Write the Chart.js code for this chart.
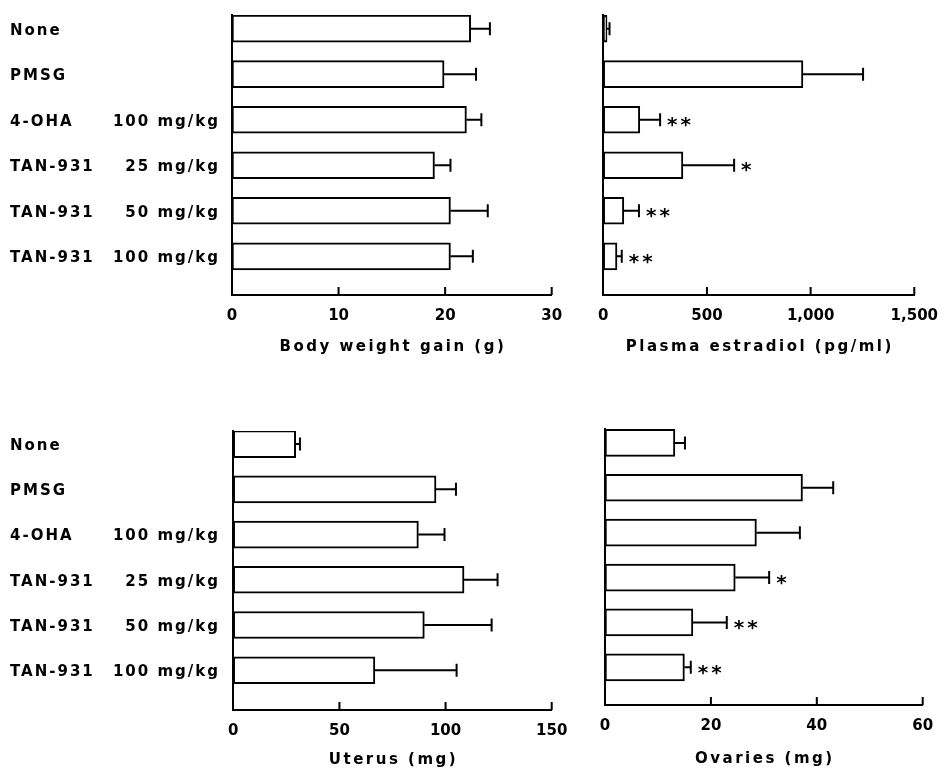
<!DOCTYPE html>
<html>
<head>
<meta charset="utf-8">
<script src="https://cdn.jsdelivr.net/npm/chart.js@4.4.1/dist/chart.umd.min.js"></script>
<style>
  html, body { margin: 0; padding: 0; background: #fff; }
  #wrap { position: relative; width: 950px; height: 770px; }
  canvas { position: absolute; left: 0; top: 0; }
</style>
</head>
<body>
<div id="wrap">
  <canvas id="weight" width="950" height="770"></canvas>
  <canvas id="estradiol" width="950" height="770"></canvas>
  <canvas id="uterus" width="950" height="770"></canvas>
  <canvas id="ovaries" width="950" height="770"></canvas>
</div>
<script>
// treatment groups (rows, top to bottom)
const groups = ['None', 'PMSG', '4-OHA', 'TAN-931', 'TAN-931', 'TAN-931'];
const doses = ['', '', '100 mg/kg', '25 mg/kg', '50 mg/kg', '100 mg/kg'];

// body weight gain (g)
const weightGain = [22.4, 19.9, 22.0, 19.0, 20.5, 20.5];
const weightGainSE = [1.8, 3.0, 1.4, 1.5, 3.5, 2.1];
const weightGainSig = ['', '', '', '', '', ''];
const weightTicks = [0, 10, 20, 30];

// plasma estradiol (pg/ml)
const estradiol = [18, 963, 176, 384, 99, 66];
const estradiolSE = [12, 290, 98, 247, 73, 23];
const estradiolSig = ['', '', '**', '*', '**', '**'];
const estradiolTicks = [0, 500, 1000, 1500];

// uterus weight (mg)
const uterus = [29.4, 95.5, 87.2, 108.7, 90.0, 66.7];
const uterusSE = [2.0, 9.4, 12.3, 15.8, 31.7, 38.5];
const uterusSig = ['', '', '', '', '', ''];
const uterusTicks = [0, 50, 100, 150];

// ovaries weight (mg)
const ovaries = [13.2, 37.3, 28.6, 24.6, 16.6, 15.0];
const ovariesSE = [1.9, 5.8, 8.2, 6.4, 6.4, 1.2];
const ovariesSig = ['', '', '', '*', '**', '**'];
const ovariesTicks = [0, 20, 40, 60];

Chart.defaults.font.family = '"DejaVu Sans", sans-serif';
Chart.defaults.font.size = 15;
Chart.defaults.color = '#000';

// error bars, asterisks, inward ticks, axis title and row labels
const extras = {
  id: 'extras',
  afterDatasetsDraw(chart) {
    const ctx = chart.ctx;
    const xs = chart.scales.x, ys = chart.scales.y;
    const area = chart.chartArea;
    const ds = chart.data.datasets[0];
    const meta = chart.getDatasetMeta(0);
    const p = chart.options.plugins.extras;
    ctx.save();
    ctx.strokeStyle = '#000';
    ctx.fillStyle = '#000';
    ctx.lineWidth = 2;
    meta.data.forEach((bar, i) => {
      const end = xs.getPixelForValue(ds.data[i].x + ds.se[i]);
      ctx.beginPath();
      ctx.moveTo(bar.x, bar.y);
      ctx.lineTo(end, bar.y);
      ctx.moveTo(end, bar.y - 6.5);
      ctx.lineTo(end, bar.y + 6.5);
      ctx.stroke();
      if (ds.sig[i]) {
        ctx.font = 'bold 20px "DejaVu Sans"';
        ctx.letterSpacing = '3px';
        ctx.textAlign = 'left';
        ctx.textBaseline = 'middle';
        ctx.fillText(ds.sig[i], end + 7, bar.y + 6);
      }
    });
    // tick marks pointing up into the plot
    ctx.beginPath();
    xs.ticks.forEach(t => {
      if (t.value > 0) {
        const px = xs.getPixelForValue(t.value);
        ctx.moveTo(px, area.bottom);
        ctx.lineTo(px, area.bottom - 8);
      }
    });
    ctx.stroke();
    // axis title
    ctx.font = 'bold 15px "DejaVu Sans"';
    ctx.letterSpacing = '2.5px';
    ctx.textAlign = 'center';
    ctx.textBaseline = 'middle';
    ctx.fillText(p.title, (area.left + area.right) / 2 + 1, area.bottom + p.titleGap);
    // row labels
    if (p.rowLabels) {
      ctx.font = 'bold 15px "DejaVu Sans"';
      ctx.letterSpacing = '2px';
      groups.forEach((g, i) => {
        const y = ys.getPixelForValue(i) + 2;
        ctx.textAlign = 'left';
        ctx.fillText(g, 10, y);
        ctx.textAlign = 'right';
        ctx.fillText(doses[i], 220, y);
      });
    }
    ctx.restore();
  }
};

function panel(id, values, se, sig, ticks, title, box, rowLabels) {
  new Chart(document.getElementById(id), {
    type: 'bar',
    data: {
      datasets: [{
        data: values.map((v, i) => ({ x: v, y: i })),
        se: se,
        sig: sig,
        backgroundColor: '#fff',
        borderColor: '#000',
        borderWidth: 2,
        borderSkipped: false,
        barThickness: 27
      }]
    },
    plugins: [extras],
    options: {
      indexAxis: 'y',
      responsive: false,
      animation: false,
      devicePixelRatio: 1,
      layout: {
        padding: { left: box.left, right: 950 - box.right, top: box.top, bottom: 770 - box.bottom - 40 }
      },
      plugins: {
        legend: { display: false },
        tooltip: { enabled: false },
        extras: { title: title, titleGap: box.titleGap, rowLabels: rowLabels }
      },
      scales: {
        x: {
          type: 'linear',
          min: ticks[0],
          max: ticks[ticks.length - 1],
          afterBuildTicks: scale => { scale.ticks = ticks.map(v => ({ value: v })); },
          afterFit: scale => { scale.height = 40; },
          grid: { display: false, drawTicks: false },
          border: { display: true, color: '#000', width: 2 },
          ticks: { padding: 12, font: { size: 15, weight: 'bold' }, maxRotation: 0 }
        },
        y: {
          type: 'linear',
          reverse: true,
          offset: false,
          min: box.yMin,
          max: box.yMax,
          afterFit: scale => { scale.width = 0; },
          grid: { display: false, drawTicks: false, offset: false },
          border: { display: true, color: '#000', width: 2 },
          ticks: { display: false }
        }
      }
    }
  });
}

panel('weight', weightGain, weightGainSE, weightGainSig, weightTicks, 'Body weight gain (g)',
  { left: 232, right: 551.7, top: 15, bottom: 295, yMin: -0.30, yMax: 5.85, titleGap: 52 }, true);
panel('estradiol', estradiol, estradiolSE, estradiolSig, estradiolTicks, 'Plasma estradiol (pg/ml)',
  { left: 603.3, right: 922.7, top: 15, bottom: 295, yMin: -0.30, yMax: 5.85, titleGap: 52 }, false);
panel('uterus', uterus, uterusSE, uterusSig, uterusTicks, 'Uterus (mg)',
  { left: 233.3, right: 551.7, top: 431, bottom: 710, yMin: -0.29, yMax: 5.88, titleGap: 50 }, true);
panel('ovaries', ovaries, ovariesSE, ovariesSig, ovariesTicks, 'Ovaries (mg)',
  { left: 605, right: 922.7, top: 429, bottom: 705, yMin: -0.31, yMax: 5.84, titleGap: 54 }, false);
</script>
</body>
</html>
